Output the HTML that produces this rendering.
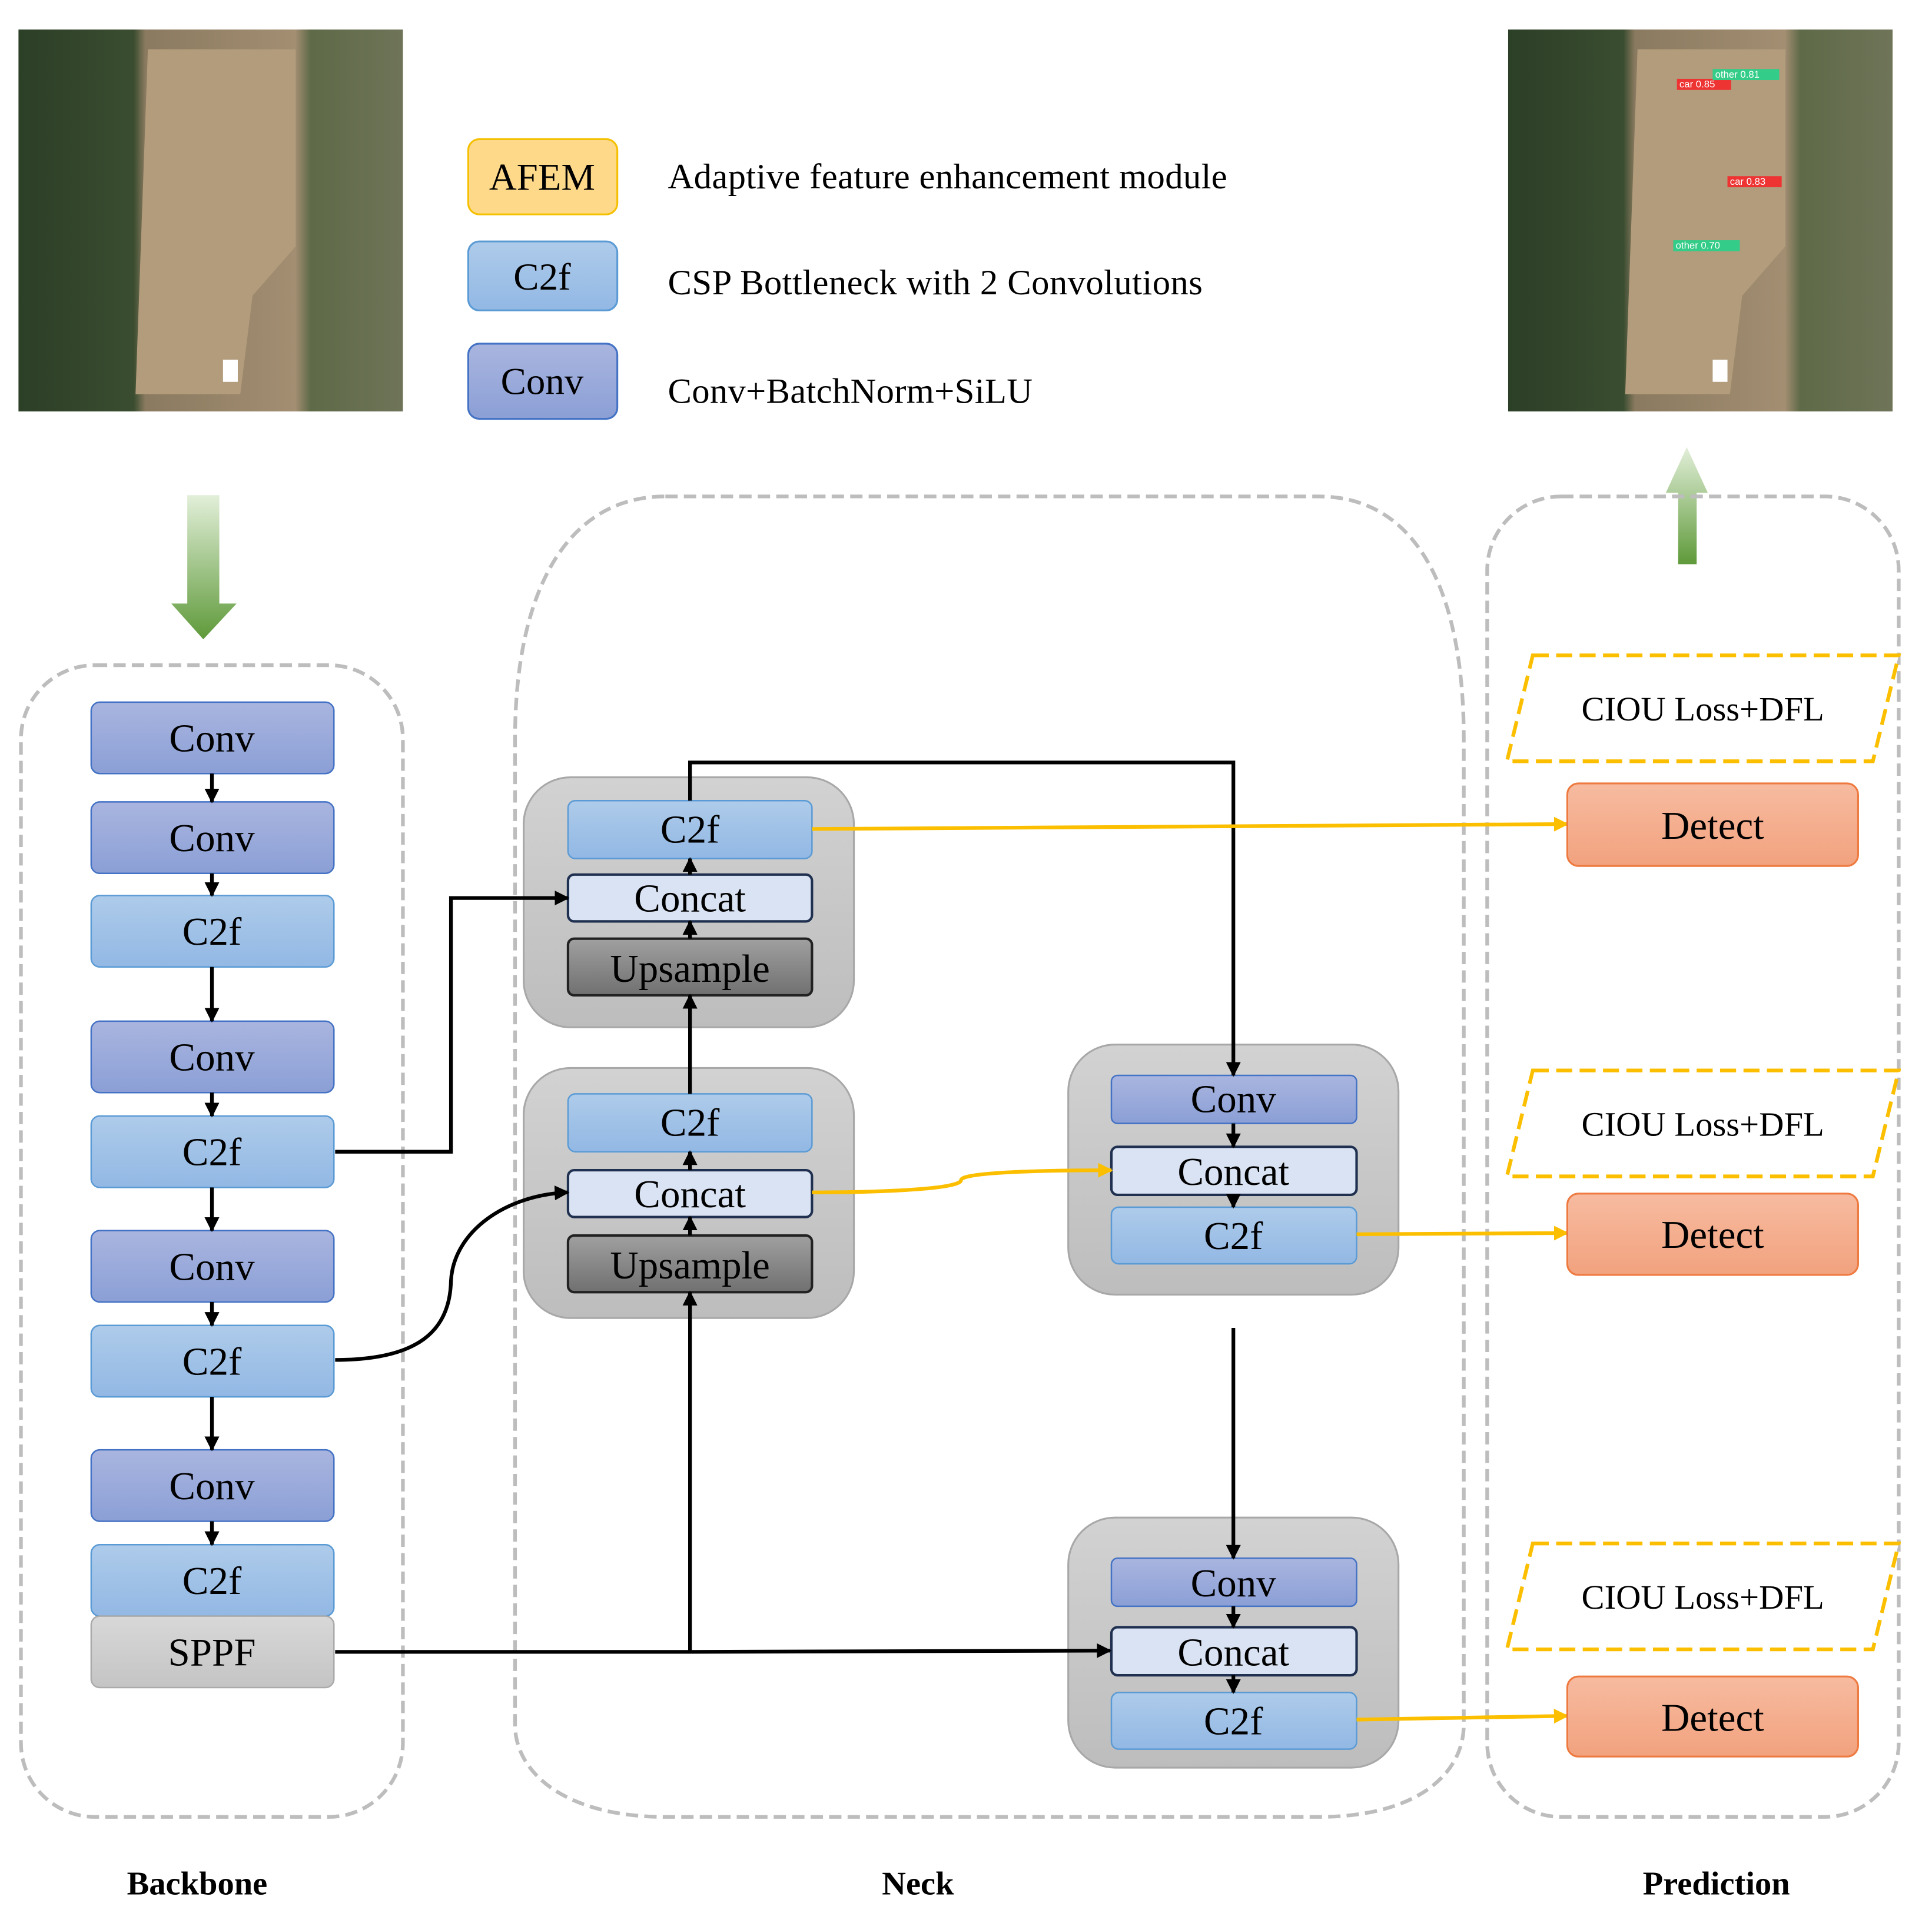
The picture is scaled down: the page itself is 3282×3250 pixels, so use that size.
<!DOCTYPE html>
<html><head><meta charset="utf-8"><style>html,body{margin:0;padding:0;background:#fff}svg{display:block}</style></head><body>
<svg width="3282" height="3250" viewBox="0 0 1568 1553" preserveAspectRatio="none" xmlns="http://www.w3.org/2000/svg" font-family="'Liberation Serif',serif">
<defs>
<linearGradient id="conv" x1="0" y1="0" x2="0" y2="1"><stop offset="0" stop-color="#a9b5df"/><stop offset="1" stop-color="#8b9fd6"/></linearGradient>
<linearGradient id="c2f" x1="0" y1="0" x2="0" y2="1"><stop offset="0" stop-color="#aecbea"/><stop offset="1" stop-color="#92b8e4"/></linearGradient>
<linearGradient id="up" x1="0" y1="0" x2="0" y2="1"><stop offset="0" stop-color="#a0a0a0"/><stop offset="1" stop-color="#707070"/></linearGradient>
<linearGradient id="grp" x1="0" y1="0" x2="0" y2="1"><stop offset="0" stop-color="#d2d2d2"/><stop offset="1" stop-color="#bdbdbd"/></linearGradient>
<linearGradient id="sppf" x1="0" y1="0" x2="0" y2="1"><stop offset="0" stop-color="#d8d8d8"/><stop offset="1" stop-color="#c4c4c4"/></linearGradient>
<linearGradient id="det" x1="0" y1="0" x2="0" y2="1"><stop offset="0" stop-color="#f7bba0"/><stop offset="1" stop-color="#f2a27e"/></linearGradient>
<linearGradient id="gdown" x1="0" y1="0" x2="0" y2="1"><stop offset="0" stop-color="#e2efd9"/><stop offset="1" stop-color="#5f9a3a"/></linearGradient>
<linearGradient id="gup" x1="0" y1="1" x2="0" y2="0"><stop offset="0" stop-color="#5f9a3a"/><stop offset="1" stop-color="#e2efd9"/></linearGradient>
<linearGradient id="field" x1="0" y1="0" x2="1" y2="0"><stop offset="0" stop-color="#2c3f27"/><stop offset="0.3" stop-color="#3a4d30"/><stop offset="0.33" stop-color="#8a7a60"/><stop offset="0.72" stop-color="#a38e72"/><stop offset="0.76" stop-color="#5e6a48"/><stop offset="1" stop-color="#6f7458"/></linearGradient>
<marker id="a" viewBox="0 0 10 10" refX="9" refY="5" markerWidth="4" markerHeight="4" orient="auto"><path d="M0,0L10,5L0,10z" fill="#000"/></marker>
<marker id="y" viewBox="0 0 10 10" refX="9" refY="5" markerWidth="4" markerHeight="4" orient="auto"><path d="M0,0L10,5L0,10z" fill="#fbbf00"/></marker>
</defs>
<rect x="15" y="24" width="312" height="310" fill="url(#field)"/>
<path d="M120,40 L240,40 L240,200 L205,240 L195,320 L110,320Z" fill="#b29c7c"/>
<rect x="181" y="292" width="12" height="18" fill="#fff"/>
<rect x="1224" y="24" width="312" height="310" fill="url(#field)"/>
<path d="M1329,40 L1449,40 L1449,200 L1414,240 L1404,320 L1319,320Z" fill="#b29c7c"/>
<rect x="1390" y="292" width="12" height="18" fill="#fff"/>
<rect x="1361" y="64" width="44" height="9" fill="#e33"/><rect x="1390" y="56" width="54" height="9" fill="#3c8"/>
<rect x="1402" y="143" width="44" height="9" fill="#e33"/><rect x="1358" y="195" width="54" height="9" fill="#3c8"/>
<g font-family="'Liberation Sans',sans-serif" font-size="8" fill="#fff"><text x="1363" y="71">car 0.85</text><text x="1392" y="63">other 0.81</text><text x="1404" y="150">car 0.83</text><text x="1360" y="202">other 0.70</text></g>
<rect x="380" y="113" width="121" height="61" rx="9" fill="#ffd98a" stroke="#f5c000" stroke-width="1.5"/>
<rect x="380" y="196" width="121" height="56" rx="9" fill="url(#c2f)" stroke="#5b9bd5" stroke-width="1.5"/>
<rect x="380" y="279" width="121" height="61" rx="9" fill="url(#conv)" stroke="#4472c4" stroke-width="1.5"/>
<g font-size="31" text-anchor="middle"><text x="440" y="154">AFEM</text><text x="440" y="235">C2f</text><text x="440" y="320">Conv</text></g>
<g font-size="29"><text x="542" y="153" textLength="454">Adaptive feature enhancement module</text><text x="542" y="239" textLength="434">CSP Bottleneck with 2 Convolutions</text><text x="542" y="327" textLength="296">Conv+BatchNorm+SiLU</text></g>
<path d="M152,402H178V490H192L165,519L139,490H152Z" fill="url(#gdown)"/>
<path d="M1362,458H1377V400H1386L1369,363L1352,400H1362Z" fill="url(#gup)"/>
<g fill="none" stroke="#bdbdbd" stroke-width="3" stroke-dasharray="10,5">
<rect x="17" y="540" width="310" height="935" rx="60"/>
<path d="M540,403H1070C1150,403 1188,480 1188,600V1400C1188,1440 1150,1475 1070,1475H540C460,1475 418,1440 418,1400V600C418,480 460,403 540,403Z"/>
<rect x="1207" y="403" width="334" height="1072" rx="60"/>
</g>
<g stroke-width="1.2">
<rect x="74" y="570" width="197" height="58" rx="7" fill="url(#conv)" stroke="#4472c4"/>
<rect x="74" y="651" width="197" height="58" rx="7" fill="url(#conv)" stroke="#4472c4"/>
<rect x="74" y="727" width="197" height="58" rx="7" fill="url(#c2f)" stroke="#5b9bd5"/>
<rect x="74" y="829" width="197" height="58" rx="7" fill="url(#conv)" stroke="#4472c4"/>
<rect x="74" y="906" width="197" height="58" rx="7" fill="url(#c2f)" stroke="#5b9bd5"/>
<rect x="74" y="999" width="197" height="58" rx="7" fill="url(#conv)" stroke="#4472c4"/>
<rect x="74" y="1076" width="197" height="58" rx="7" fill="url(#c2f)" stroke="#5b9bd5"/>
<rect x="74" y="1177" width="197" height="58" rx="7" fill="url(#conv)" stroke="#4472c4"/>
<rect x="74" y="1254" width="197" height="58" rx="7" fill="url(#c2f)" stroke="#5b9bd5"/>
<rect x="74" y="1312" width="197" height="58" rx="7" fill="url(#sppf)" stroke="#aaa"/>
</g>
<g font-size="32" text-anchor="middle">
<text x="172" y="610">Conv</text><text x="172" y="691">Conv</text><text x="172" y="767">C2f</text><text x="172" y="869">Conv</text><text x="172" y="946">C2f</text><text x="172" y="1039">Conv</text><text x="172" y="1116">C2f</text><text x="172" y="1217">Conv</text><text x="172" y="1294">C2f</text><text x="172" y="1352">SPPF</text>
</g>
<g stroke="#000" stroke-width="3" fill="none" marker-end="url(#a)">
<path d="M172,628V651"/><path d="M172,709V727"/><path d="M172,785V829"/><path d="M172,887V906"/><path d="M172,964V999"/><path d="M172,1057V1076"/><path d="M172,1134V1177"/><path d="M172,1235V1254"/>
</g>
<g stroke="#a8a8a8" stroke-width="1.5" fill="url(#grp)">
<rect x="425" y="631" width="268" height="203" rx="38"/>
<rect x="425" y="867" width="268" height="203" rx="38"/>
<rect x="867" y="848" width="268" height="203" rx="38"/>
<rect x="867" y="1232" width="268" height="203" rx="38"/>
</g>
<g stroke-width="2">
<rect x="461" y="650" width="198" height="47" rx="6" fill="url(#c2f)" stroke="#5b9bd5" stroke-width="1.2"/>
<rect x="461" y="710" width="198" height="38" rx="5" fill="#dae3f3" stroke="#1f3050"/>
<rect x="461" y="762" width="198" height="46" rx="5" fill="url(#up)" stroke="#222"/>
<rect x="461" y="888" width="198" height="47" rx="6" fill="url(#c2f)" stroke="#5b9bd5" stroke-width="1.2"/>
<rect x="461" y="950" width="198" height="38" rx="5" fill="#dae3f3" stroke="#1f3050"/>
<rect x="461" y="1003" width="198" height="46" rx="5" fill="url(#up)" stroke="#222"/>
<rect x="902" y="873" width="199" height="39" rx="5" fill="url(#conv)" stroke="#4472c4" stroke-width="1.2"/>
<rect x="902" y="931" width="199" height="39" rx="5" fill="#dae3f3" stroke="#1f3050"/>
<rect x="902" y="980" width="199" height="46" rx="6" fill="url(#c2f)" stroke="#5b9bd5" stroke-width="1.2"/>
<rect x="902" y="1265" width="199" height="39" rx="5" fill="url(#conv)" stroke="#4472c4" stroke-width="1.2"/>
<rect x="902" y="1321" width="199" height="39" rx="5" fill="#dae3f3" stroke="#1f3050"/>
<rect x="902" y="1374" width="199" height="46" rx="6" fill="url(#c2f)" stroke="#5b9bd5" stroke-width="1.2"/>
</g>
<g font-size="32" text-anchor="middle">
<text x="560" y="684">C2f</text><text x="560" y="740">Concat</text><text x="560" y="797">Upsample</text>
<text x="560" y="922">C2f</text><text x="560" y="980">Concat</text><text x="560" y="1038">Upsample</text>
<text x="1001" y="903">Conv</text><text x="1001" y="962">Concat</text><text x="1001" y="1014">C2f</text>
<text x="1001" y="1296">Conv</text><text x="1001" y="1352">Concat</text><text x="1001" y="1408">C2f</text>
</g>
<g stroke="#000" stroke-width="3" fill="none">
<path d="M560,710V697" marker-end="url(#a)"/><path d="M560,762V748" marker-end="url(#a)"/>
<path d="M560,950V935" marker-end="url(#a)"/><path d="M560,1003V988" marker-end="url(#a)"/>
<path d="M1001,912V931" marker-end="url(#a)"/><path d="M1001,970V980" marker-end="url(#a)"/>
<path d="M1001,1304V1321" marker-end="url(#a)"/><path d="M1001,1360V1374" marker-end="url(#a)"/>
<path d="M560,888V808" marker-end="url(#a)"/>
<path d="M272,935H366V729H461" marker-end="url(#a)"/>
<path d="M272,1104C340,1104 365,1080 366,1040C368,1000 410,970 461,968" marker-end="url(#a)"/>
<path d="M272,1341H560L901,1340" marker-end="url(#a)"/>
<path d="M560,1341V1049" marker-end="url(#a)"/>
<path d="M560,650V619H1001V873" marker-end="url(#a)"/>
<path d="M1001,1078V1265" marker-end="url(#a)"/>
</g>
<g stroke="#fbbf00" stroke-width="3" fill="none" marker-end="url(#y)">
<path d="M659,673L1272,669"/>
<path d="M659,968C720,968 780,965 780,958C780,952 840,950 902,950"/>
<path d="M1101,1002L1272,1001"/>
<path d="M1101,1396L1272,1393"/>
</g>
<g fill="#fff" stroke="#fbbf00" stroke-width="3" stroke-dasharray="13,6">
<path d="M1244,532H1541L1520,618H1223Z"/>
<path d="M1244,869H1541L1520,955H1223Z"/>
<path d="M1244,1253H1541L1520,1339H1223Z"/>
</g>
<g fill="url(#det)" stroke="#ee7a40" stroke-width="1.5">
<rect x="1272" y="636" width="236" height="67" rx="9"/>
<rect x="1272" y="969" width="236" height="66" rx="9"/>
<rect x="1272" y="1361" width="236" height="65" rx="9"/>
</g>
<g font-size="28" text-anchor="middle"><text x="1382" y="585">CIOU Loss+DFL</text><text x="1382" y="922">CIOU Loss+DFL</text><text x="1382" y="1306">CIOU Loss+DFL</text></g>
<g font-size="32" text-anchor="middle"><text x="1390" y="681">Detect</text><text x="1390" y="1013">Detect</text><text x="1390" y="1405">Detect</text></g>
<g font-size="27" font-weight="bold" text-anchor="middle"><text x="160" y="1538">Backbone</text><text x="745" y="1538">Neck</text><text x="1393" y="1538">Prediction</text></g>
</svg>
</body></html>
